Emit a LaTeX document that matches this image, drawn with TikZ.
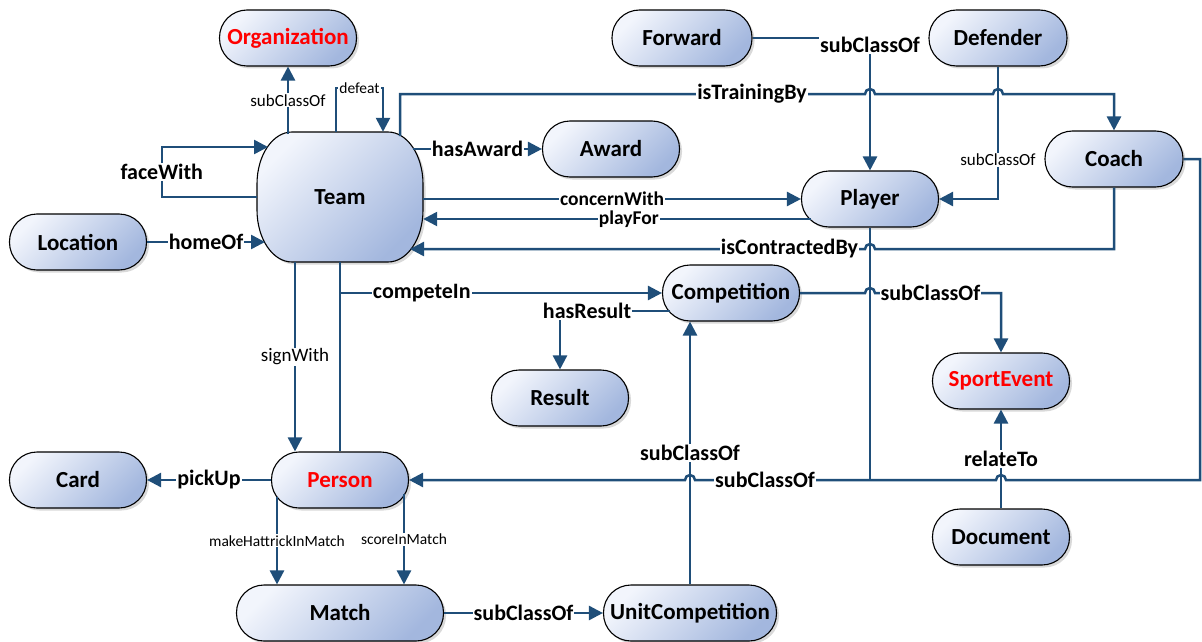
\documentclass[tikz,border=0pt]{standalone}
\usepackage{fontspec}
\setmainfont{Carlito}
\usetikzlibrary{arrows.meta,shadows,calc}
\definecolor{edgeblue}{RGB}{31,78,121}
\definecolor{boxlight}{RGB}{242,245,252}
\definecolor{boxdark}{RGB}{163,183,222}
\definecolor{clsred}{RGB}{255,0,0}
\begin{document}
\begin{tikzpicture}[x=1pt,y=1pt,
  boxfill/.style={draw=black, line width=1.1pt,
    top color=boxlight, bottom color=boxdark, shading angle=45,
    drop shadow={opacity=0.3, shadow xshift=2.5pt, shadow yshift=-2.5pt}},
  cls/.style={rectangle, rounded corners=27.5pt, boxfill,
    minimum width=137pt, minimum height=56pt, inner sep=0pt,
    font=\bfseries\fontsize{23}{26}\selectfont},
  redtext/.style={text=clsred},
  rel/.style={draw=edgeblue, line width=2.5pt, -{Triangle[length=14pt,width=14pt]}},
  plainrel/.style={draw=edgeblue, line width=2.5pt},
  lbl/.style={fill=white, inner sep=1pt, text=black, font=\bfseries\fontsize{22}{24}\selectfont},
  mlbl/.style={fill=white, inner sep=1pt, text=black, font=\bfseries\fontsize{19.5}{22}\selectfont},
  slbl/.style={fill=white, inner sep=1pt, text=black, font=\fontsize{17}{19}\selectfont},
  tlbl/.style={fill=white, inner sep=1pt, text=black, font=\fontsize{15.5}{17}\selectfont},
]
\useasboundingbox (0,0) rectangle (1202,-642);

% the Team class: a box with elliptical corners
\path[boxfill] (292,-132) -- (388,-132)
  arc[start angle=90, end angle=0, x radius=35, y radius=52] -- (423,-210)
  arc[start angle=0, end angle=-90, x radius=35, y radius=52] -- (292,-262)
  arc[start angle=270, end angle=180, x radius=35, y radius=52] -- (257,-184)
  arc[start angle=180, end angle=90, x radius=35, y radius=52] -- cycle;
\node[minimum width=166pt, minimum height=130pt, inner sep=0pt,
  font=\bfseries\fontsize{23}{26}\selectfont] (team) at (340,-197) {Team};

% classes
\node[cls, redtext] (org) at (288,-38) {Organization};
\node[cls] (award) at (611,-149) {Award};
\node[cls] (loc) at (78,-242) {Location};
\node[cls, minimum width=140pt] (fwd) at (682,-38) {Forward};
\node[cls, minimum width=138pt] (def) at (998,-38) {Defender};
\node[cls, minimum width=138pt] (coach) at (1114,-159) {Coach};
\node[cls] (player) at (870,-199) {Player};
\node[cls] (comp) at (731,-293) {Competition};
\node[cls] (result) at (560,-398) {Result};
\node[cls, redtext] (sport) at (1001,-381) {SportEvent};
\node[cls] (card) at (78,-480) {Card};
\node[cls, redtext] (person) at (340,-480) {Person};
\node[cls] (doc) at (1001,-537) {Document};
\node[cls, minimum width=207pt] (match) at (340,-613) {Match};
\node[cls, minimum width=173pt] (unit) at (690,-613) {UnitCompetition};

% points on the outline of Team and other ends
\coordinate (orgOut) at (288,-134);
\coordinate (fwIn) at (268,-147);
\coordinate (awOut) at (413,-149);
\coordinate (trOut) at (400,-136);
\coordinate (pfOut) at (811,-219);
\coordinate (icIn) at (410,-249);
\coordinate (hoIn) at (265,-242);
\coordinate (ciOut) at (340,-293);
\coordinate (hrOut) at (670,-311);
\coordinate (mhOut) at (277,-497);
\coordinate (smOut) at (404,-494);
\coordinate (join) at (870,-480);

% Team relations
\draw[rel] (orgOut) -- node[slbl]{subClassOf} (org.south);
\draw[rel] ($(team.north)+(-4,0)$) -- ++(0,44) -| node[tlbl, pos=0.25]{defeat} ($(team.north)+(43,0)$);
\draw[rel] (team.west) -- ++(-95,0) |- node[lbl, pos=0.25]{faceWith} (fwIn);
\draw[rel] (awOut) -- node[lbl]{hasAward} (award.west);
\draw[rel] (trOut) -- (400,-94) -- node[lbl, pos=0.757]{isTrainingBy} (865,-94)
  arc[start angle=180, end angle=0, radius=5] -- (993,-94)
  arc[start angle=180, end angle=0, radius=5] -- (1114,-94) -- (coach.north);
\draw[rel] (team.east |- player.west) -- node[mlbl]{concernWith} (player.west);
\draw[rel] (pfOut) -- node[mlbl, pos=0.47]{playFor} (team.east |- pfOut);
\draw[rel] (coach.south) -- (1114,-249) -- (875,-249)
  arc[start angle=0, end angle=180, radius=5] -- node[lbl, pos=0.166]{isContractedBy} (icIn);
\draw[rel] (loc.east) -- node[lbl]{homeOf} (hoIn);
\draw[rel] ($(team.south)+(-45,0)$) -- node[slbl, font=\fontsize{19}{21}\selectfont]{signWith} ($(person.north)+(-45,0)$);
\draw[plainrel] (person.north) -- (team.south);
\draw[rel] (ciOut) -- node[lbl, pos=0.254]{competeIn} (comp.west);

% subclass hierarchy
\draw[rel] (fwd.east) -| node[lbl, pos=0.5, yshift=-7pt]{subClassOf} (player.north);
\draw[rel] (def.south) |- node[slbl, pos=0.353]{subClassOf} (player.east);
\draw[plainrel] (player.south) -- (join);
\draw[rel] (coach.east) -- (1200,-159) -- (1200,-480) -- (1006,-480)
  arc[start angle=0, end angle=180, radius=5] -- (join) -- node[lbl, pos=0.6]{subClassOf} (695,-480)
  arc[start angle=0, end angle=180, radius=5] -- (person.east);
\draw[rel] (unit.north) -- node[lbl]{subClassOf} (comp.south -| unit.north);
\draw[rel] (match.east) -- node[lbl]{subClassOf} (unit.west);
\draw[rel] (comp.east) -- (865,-293) arc[start angle=180, end angle=0, radius=5]
  -- node[lbl, pos=0.44]{subClassOf} (1001,-293) -- (sport.north);

% other relations
\draw[rel] (hrOut) -| node[lbl, pos=0.377]{hasResult} (result.north);
\draw[rel] (doc.north) -- node[lbl]{relateTo} (sport.south);
\draw[rel] (person.west) -- node[lbl]{pickUp} (card.east);
\draw[rel] (mhOut) -- node[tlbl]{makeHattrickInMatch} (mhOut |- match.north);
\draw[rel] (smOut) -- node[tlbl]{scoreInMatch} (smOut |- match.north);
\end{tikzpicture}
\end{document}
